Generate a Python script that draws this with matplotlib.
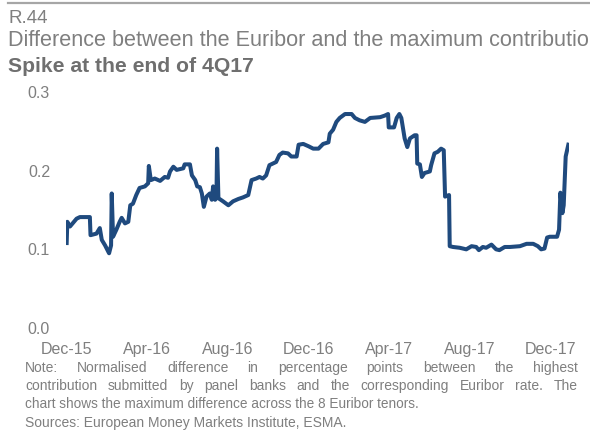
import matplotlib
matplotlib.use("Agg")
import matplotlib.pyplot as plt
import matplotlib.dates as mdates
import numpy as np
from matplotlib.lines import Line2D

plt.rcParams['font.family'] = ['Liberation Sans', 'DejaVu Sans']

# data
dates = [
    "2015-12-02", "2015-12-03", "2015-12-07", "2015-12-17", "2015-12-22",
    "2016-01-06", "2016-01-07", "2016-01-16", "2016-01-21", "2016-01-24",
    "2016-01-29", "2016-02-04", "2016-02-07", "2016-02-08", "2016-02-10",
    "2016-02-15", "2016-02-20", "2016-02-23", "2016-02-28", "2016-03-04",
    "2016-03-07", "2016-03-11", "2016-03-16", "2016-03-21", "2016-03-29",
    "2016-04-03", "2016-04-04", "2016-04-07", "2016-04-13", "2016-04-21",
    "2016-04-28", "2016-05-03", "2016-05-06", "2016-05-11", "2016-05-16",
    "2016-05-26", "2016-05-28", "2016-06-05", "2016-06-08", "2016-06-13",
    "2016-06-16", "2016-06-20", "2016-06-23", "2016-06-26", "2016-06-30",
    "2016-07-05", "2016-07-08", "2016-07-10", "2016-07-13", "2016-07-15",
    "2016-07-16", "2016-07-18", "2016-07-25", "2016-08-02", "2016-08-09",
    "2016-08-17", "2016-08-24", "2016-09-01", "2016-09-06", "2016-09-13",
    "2016-09-18", "2016-09-23", "2016-09-28", "2016-10-03", "2016-10-13",
    "2016-10-18", "2016-10-23", "2016-10-31", "2016-11-05", "2016-11-13",
    "2016-11-16", "2016-11-23", "2016-12-01", "2016-12-08", "2016-12-16",
    "2016-12-23", "2016-12-31", "2017-01-02", "2017-01-07", "2017-01-12",
    "2017-01-17", "2017-01-25", "2017-02-04", "2017-02-09", "2017-02-16",
    "2017-02-24", "2017-03-04", "2017-03-19", "2017-03-26", "2017-03-31",
    "2017-04-01", "2017-04-09", "2017-04-13", "2017-04-17", "2017-04-20",
    "2017-04-25", "2017-04-29", "2017-05-03", "2017-05-10", "2017-05-13",
    "2017-05-14", "2017-05-18", "2017-05-21", "2017-05-25", "2017-06-02",
    "2017-06-04", "2017-06-09", "2017-06-14", "2017-06-19", "2017-06-23",
    "2017-06-25", "2017-07-01", "2017-07-02", "2017-07-07", "2017-07-17",
    "2017-07-27", "2017-08-04", "2017-08-11", "2017-08-15", "2017-08-21",
    "2017-08-26", "2017-09-03", "2017-09-10", "2017-09-15", "2017-09-23",
    "2017-10-01", "2017-10-16", "2017-10-26", "2017-11-05", "2017-11-12",
    "2017-11-17", "2017-11-22", "2017-11-26", "2017-11-30", "2017-12-11",
    "2017-12-14", "2017-12-16", "2017-12-19", "2017-12-21", "2017-12-24",
    "2017-12-28",
]
values = [
    0.108, 0.135, 0.129, 0.139, 0.141,
    0.141, 0.118, 0.120, 0.127, 0.112,
    0.105, 0.095, 0.105, 0.171, 0.116,
    0.125, 0.135, 0.140, 0.133, 0.135,
    0.156, 0.158, 0.169, 0.178, 0.180,
    0.184, 0.206, 0.188, 0.190, 0.187,
    0.192, 0.191, 0.199, 0.205, 0.201,
    0.203, 0.208, 0.208, 0.194, 0.188,
    0.180, 0.179, 0.171, 0.154, 0.167,
    0.171, 0.163, 0.180, 0.163, 0.165,
    0.228, 0.165, 0.161, 0.156, 0.161,
    0.164, 0.166, 0.169, 0.188, 0.190,
    0.192, 0.190, 0.194, 0.207, 0.211,
    0.220, 0.223, 0.222, 0.218, 0.218,
    0.233, 0.234, 0.231, 0.228, 0.228,
    0.234, 0.236, 0.247, 0.252, 0.262,
    0.267, 0.272, 0.272, 0.267, 0.264,
    0.262, 0.267, 0.268, 0.270, 0.272,
    0.255, 0.255, 0.267, 0.272, 0.267,
    0.241, 0.230, 0.241, 0.245, 0.245,
    0.209, 0.208, 0.192, 0.197, 0.199,
    0.207, 0.222, 0.224, 0.228, 0.226,
    0.167, 0.169, 0.104, 0.103, 0.102,
    0.100, 0.104, 0.103, 0.099, 0.103,
    0.102, 0.106, 0.100, 0.099, 0.103,
    0.103, 0.104, 0.107, 0.107, 0.104,
    0.100, 0.101, 0.115, 0.116, 0.116,
    0.125, 0.172, 0.146, 0.156, 0.218,
    0.233,
]
y_ticks = [0.0, 0.1, 0.2, 0.3]

fig_label = "R.44"
title = "Difference between the Euribor and the maximum contribution"
subtitle = "Spike at the end of 4Q17"
note_lines = [
    "Note: Normalised difference in percentage points between the highest",
    "contribution submitted by panel banks and the corresponding Euribor rate. The",
    "chart shows the maximum difference across the 8 Euribor tenors.",
]
sources = "Sources: European Money Markets Institute, ESMA."

W, H = 590, 432
grey = "#7f7f7f"
line_col = "#1f4a7e"

fig = plt.figure(figsize=(W / 100, H / 100), dpi=100)
ax = fig.add_axes([66 / W, 1 - 328 / H, (569 - 66) / W, (328 - 92) / H])

ax.plot(np.array(dates, dtype="datetime64[D]"), values, color=line_col, lw=2.9,
        solid_joinstyle="round")

ax.set_xlim(np.datetime64("2015-12-01"), np.datetime64("2017-12-29"))
ax.set_ylim(0, 0.3)
ax.set_yticks(y_ticks)
ax.yaxis.set_major_formatter(plt.FuncFormatter(lambda v, p: f"{v:.1f}"))
ax.xaxis.set_major_locator(mdates.MonthLocator(bymonth=[4, 8, 12]))
ax.xaxis.set_major_formatter(mdates.DateFormatter("%b-%y"))
for s in ax.spines.values():
    s.set_visible(False)
ax.tick_params(axis="both", length=0, labelsize=11.5, labelcolor=grey)
ax.tick_params(axis="y", pad=11.5)
ax.tick_params(axis="x", pad=10)

# header
fig.add_artist(Line2D([8 / W, 1], [1 - 3 / H, 1 - 3 / H], color="#a6a6a6", lw=1.6))
fig.text(8 / W, 1 - 23 / H, fig_label, fontsize=13.5, color=grey, va="baseline")
fig.text(8 / W, 1 - 46 / H, title, fontsize=15.6, color=grey, va="baseline")
fig.text(8 / W, 1 - 72 / H, subtitle, fontsize=15.2, color="#6f6f6f",
         fontweight="bold", va="baseline")

# justified note
renderer = fig.canvas.get_renderer()
x0, x1 = 25, 578
baselines = [372, 390, 408]
for i, line in enumerate(note_lines):
    yb = 1 - baselines[i] / H
    if i < 2:
        words = line.split()
        widths = []
        for w in words:
            t = fig.text(0, 0, w, fontsize=10)
            widths.append(t.get_window_extent(renderer).width)
            t.remove()
        gap = (x1 - x0 - sum(widths)) / (len(words) - 1)
        x = x0
        for w, wd in zip(words, widths):
            fig.text(x / W, yb, w, fontsize=10, color=grey, va="baseline")
            x += wd + gap
    else:
        fig.text(x0 / W, yb, line, fontsize=9.8, color=grey, va="baseline")
fig.text(x0 / W, 1 - 427 / H, sources, fontsize=10, color=grey, va="baseline")

fig.savefig("out.png", dpi=100)
